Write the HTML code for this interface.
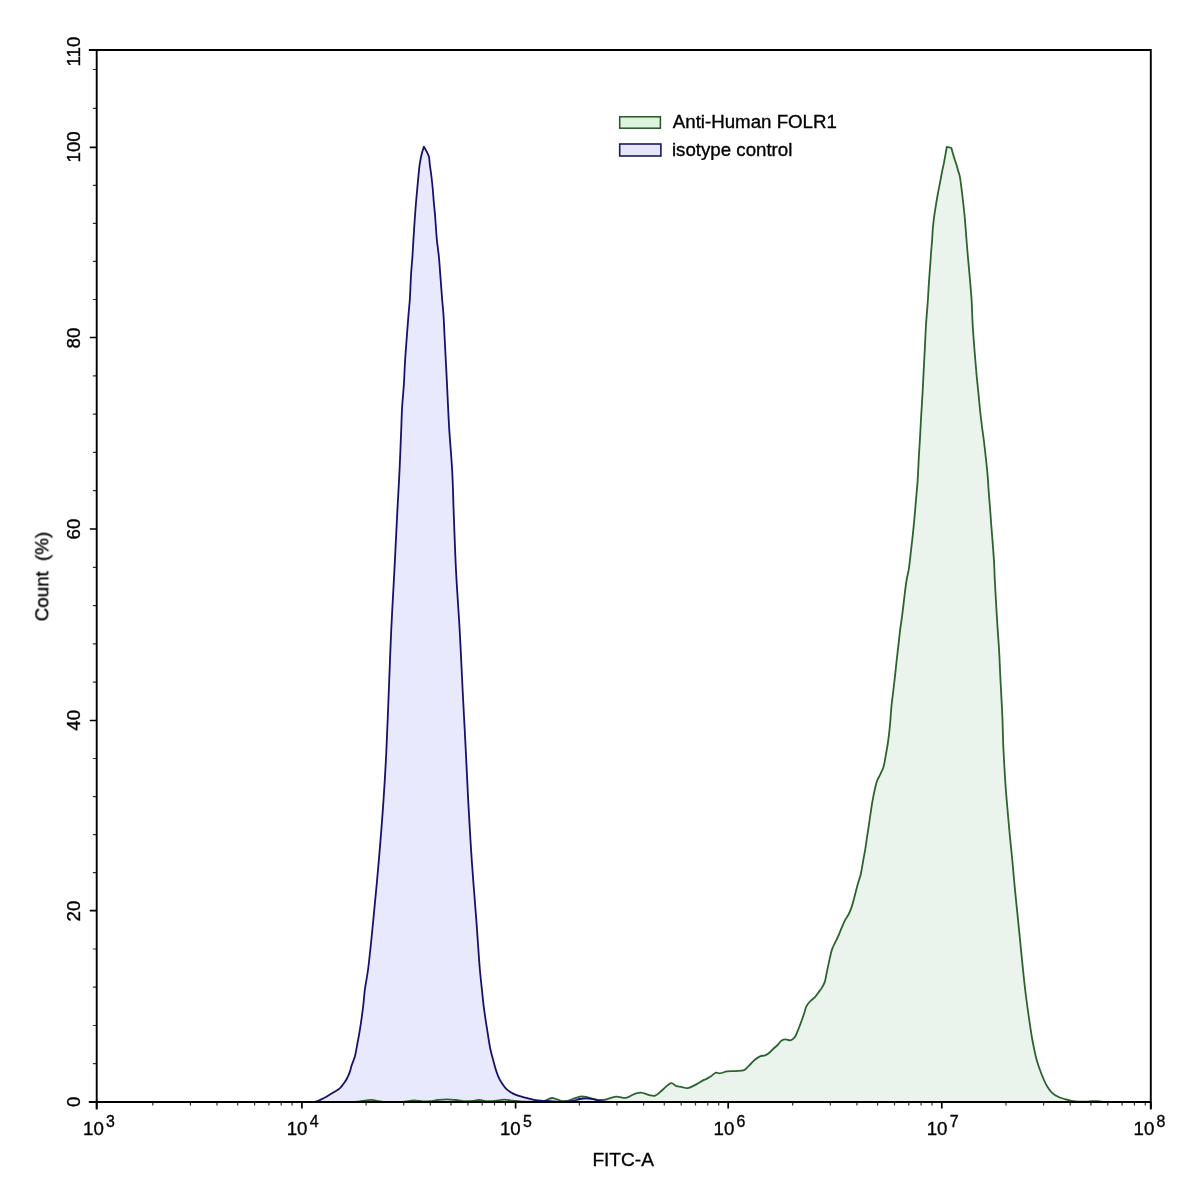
<!DOCTYPE html>
<html><head><meta charset="utf-8"><title>FITC-A histogram</title>
<style>html,body{margin:0;padding:0;background:#fff;width:1197px;height:1193px;overflow:hidden}svg{display:block}</style>
</head><body>
<svg width="1197" height="1193" viewBox="0 0 1197 1193" font-family="'Liberation Sans', Arial, sans-serif" fill="#000">
<defs><clipPath id="pc"><rect x="96" y="40" width="1056" height="1061.2"/></clipPath></defs><g clip-path="url(#pc)">
<path d="M97.00,1102.00 C97.00,1102.00 330.69,1103.73 355.00,1102.00 C359.02,1101.71 359.52,1101.34 362.00,1101.00 C364.81,1100.61 368.09,1099.74 371.00,1099.80 C373.75,1099.86 376.42,1100.83 379.00,1101.20 C381.41,1101.55 383.09,1101.86 386.00,1102.00 C390.78,1102.22 399.85,1102.02 405.00,1101.60 C408.56,1101.31 411.00,1100.33 414.00,1100.30 C417.00,1100.27 420.18,1101.27 423.00,1101.40 C425.48,1101.52 427.60,1101.41 430.00,1101.20 C432.58,1100.97 435.25,1100.31 438.00,1100.00 C440.91,1099.67 444.00,1099.30 447.00,1099.30 C450.00,1099.30 452.92,1099.70 456.00,1100.00 C459.25,1100.32 463.09,1101.07 466.00,1101.20 C468.25,1101.30 469.93,1101.18 472.00,1101.00 C474.25,1100.80 476.59,1099.99 479.00,1100.00 C481.58,1100.01 484.33,1101.05 487.00,1101.20 C489.66,1101.35 492.26,1101.13 495.00,1100.90 C497.92,1100.65 501.00,1099.73 504.00,1099.70 C507.00,1099.67 510.19,1100.38 513.00,1100.70 C515.48,1100.98 517.22,1101.33 520.00,1101.50 C524.05,1101.74 530.64,1101.73 535.00,1101.60 C538.38,1101.50 541.13,1101.62 544.00,1101.00 C546.79,1100.40 549.24,1098.08 552.00,1098.00 C554.90,1097.92 558.41,1100.35 561.00,1100.80 C562.89,1101.13 564.43,1101.14 566.00,1101.00 C567.42,1100.87 568.38,1100.56 570.00,1100.10 C572.60,1099.36 577.05,1097.03 580.00,1096.60 C582.22,1096.28 583.76,1096.55 586.00,1096.90 C588.95,1097.36 592.80,1099.17 596.10,1099.60 C599.16,1100.00 601.98,1100.02 605.10,1099.60 C608.61,1099.13 612.50,1096.85 616.10,1096.60 C619.49,1096.37 623.01,1098.38 626.10,1097.90 C629.01,1097.45 631.55,1094.99 634.20,1094.10 C636.57,1093.30 638.80,1092.49 641.20,1092.60 C643.79,1092.72 646.70,1094.61 649.20,1095.10 C651.32,1095.51 653.19,1096.20 655.20,1095.60 C657.78,1094.83 660.36,1091.55 663.00,1089.50 C665.72,1087.39 668.84,1083.24 671.30,1083.10 C673.14,1082.99 674.57,1085.47 676.30,1086.10 C677.91,1086.69 679.55,1086.58 681.30,1086.90 C683.26,1087.26 685.27,1088.44 687.50,1088.20 C690.31,1087.90 693.91,1085.55 696.70,1084.10 C699.15,1082.83 701.63,1080.95 703.40,1080.10 C704.47,1079.59 705.10,1079.57 706.10,1079.10 C707.46,1078.46 709.12,1077.40 710.70,1076.40 C712.45,1075.29 714.46,1073.03 716.10,1072.70 C717.28,1072.47 718.25,1073.42 719.40,1073.40 C720.67,1073.38 722.12,1072.75 723.40,1072.40 C724.58,1072.08 725.37,1071.63 726.80,1071.40 C729.12,1071.03 733.12,1071.33 736.10,1071.10 C738.87,1070.88 742.16,1070.94 744.10,1070.10 C745.45,1069.51 746.05,1068.57 747.10,1067.60 C748.37,1066.43 749.76,1064.85 751.10,1063.50 C752.43,1062.15 753.62,1060.69 755.10,1059.50 C756.61,1058.28 758.37,1057.00 760.10,1056.30 C761.71,1055.65 763.57,1055.88 765.10,1055.30 C766.56,1054.75 767.83,1053.97 769.10,1053.00 C770.51,1051.92 771.71,1050.31 773.10,1049.00 C774.54,1047.65 776.17,1046.42 777.60,1045.00 C779.04,1043.56 780.19,1041.31 781.70,1040.40 C782.94,1039.65 784.31,1039.42 785.70,1039.40 C787.20,1039.37 788.95,1040.68 790.40,1040.40 C791.85,1040.12 793.32,1038.93 794.40,1037.70 C795.61,1036.32 796.24,1034.22 797.10,1032.30 C798.04,1030.20 798.92,1027.89 799.80,1025.60 C800.72,1023.23 801.69,1020.63 802.50,1018.30 C803.24,1016.18 803.83,1014.22 804.50,1012.20 C805.16,1010.19 805.57,1008.01 806.50,1006.20 C807.39,1004.46 808.55,1003.00 809.90,1001.50 C811.40,999.85 813.63,998.51 815.20,996.80 C816.72,995.14 818.01,993.01 819.20,991.40 C820.16,990.11 820.97,989.26 821.80,987.90 C822.82,986.25 823.94,984.26 824.70,982.10 C825.57,979.63 825.91,976.56 826.50,973.80 C827.08,971.06 827.62,968.33 828.20,965.60 C828.78,962.86 829.39,960.02 830.00,957.40 C830.56,954.97 830.99,952.61 831.70,950.40 C832.37,948.32 833.18,946.53 834.10,944.50 C835.12,942.25 836.47,939.95 837.60,937.50 C838.81,934.87 839.88,932.04 841.10,929.20 C842.40,926.18 843.78,922.61 845.20,919.90 C846.37,917.67 847.74,916.10 848.80,914.00 C849.92,911.78 850.85,909.38 851.70,906.90 C852.60,904.29 853.24,901.53 854.00,898.70 C854.81,895.68 855.59,892.32 856.40,889.30 C857.16,886.47 857.96,883.59 858.70,881.10 C859.32,879.00 860.00,877.25 860.50,875.30 C861.00,873.35 861.29,871.60 861.70,869.40 C862.22,866.63 862.73,863.25 863.30,860.00 C863.92,856.50 864.69,852.80 865.30,849.10 C865.93,845.27 866.42,841.31 867.00,837.40 C867.58,833.47 868.22,829.53 868.80,825.60 C869.38,821.69 869.92,817.80 870.50,813.90 C871.08,810.00 871.62,806.10 872.30,802.20 C872.99,798.27 873.77,794.10 874.60,790.40 C875.35,787.08 875.99,783.71 877.00,781.00 C877.83,778.78 878.91,777.32 879.90,775.20 C881.07,772.69 882.55,769.96 883.50,766.90 C884.59,763.39 885.08,759.10 885.80,755.20 C886.52,751.30 887.22,747.41 887.80,743.50 C888.38,739.58 888.87,735.63 889.30,731.70 C889.73,727.80 890.06,724.02 890.40,720.00 C890.76,715.73 890.96,711.36 891.40,706.80 C891.88,701.88 892.60,696.60 893.20,691.50 C893.80,686.40 894.43,681.39 895.00,676.20 C895.59,670.83 896.10,665.16 896.70,659.80 C897.27,654.63 897.92,649.68 898.50,644.60 C899.08,639.51 899.57,634.29 900.20,629.30 C900.81,624.50 901.55,620.16 902.20,615.20 C902.92,609.66 903.57,603.46 904.30,597.60 C905.03,591.73 905.74,585.15 906.60,580.00 C907.28,575.92 908.15,573.18 908.80,569.10 C909.63,563.95 910.22,557.37 910.90,551.50 C911.58,545.63 912.28,539.77 912.90,533.90 C913.52,528.04 914.07,522.17 914.60,516.30 C915.13,510.43 915.60,504.57 916.10,498.70 C916.60,492.83 917.17,487.39 917.60,481.10 C918.09,473.84 918.39,464.87 918.80,457.60 C919.16,451.31 919.54,446.23 919.90,440.00 C920.31,432.94 920.67,425.01 921.10,417.40 C921.54,409.64 922.07,401.73 922.50,393.90 C922.93,386.07 923.30,378.23 923.70,370.40 C924.10,362.57 924.50,354.72 924.90,346.90 C925.30,339.09 925.60,331.31 926.10,323.50 C926.60,315.67 927.46,306.62 927.90,300.00 C928.22,295.15 928.35,291.53 928.60,287.40 C928.85,283.40 929.12,279.52 929.40,275.60 C929.68,271.69 930.02,267.80 930.30,263.90 C930.58,260.00 930.80,256.11 931.10,252.20 C931.40,248.27 931.82,244.33 932.10,240.40 C932.38,236.49 932.47,232.60 932.80,228.70 C933.13,224.77 933.58,220.82 934.10,216.90 C934.62,212.99 935.27,209.10 935.90,205.20 C936.53,201.30 937.19,197.40 937.90,193.50 C938.62,189.57 939.45,185.63 940.20,181.70 C940.95,177.79 941.70,173.45 942.40,170.00 C942.96,167.25 943.47,165.26 944.00,162.60 C944.61,159.52 945.29,155.48 945.80,152.60 C946.19,150.41 946.80,146.80 946.80,146.80 C946.80,146.80 951.30,147.80 951.30,147.80 C951.30,147.80 953.16,154.56 954.10,157.60 C954.93,160.28 955.93,162.86 956.60,165.10 C957.14,166.90 957.41,168.30 957.90,170.00 C958.44,171.88 959.18,173.58 959.70,175.90 C960.42,179.12 960.85,183.43 961.40,187.60 C962.02,192.35 962.64,197.91 963.20,202.90 C963.74,207.67 964.24,211.96 964.70,216.90 C965.22,222.45 965.63,228.71 966.10,234.60 C966.57,240.48 967.00,246.33 967.50,252.20 C968.00,258.07 968.58,263.93 969.10,269.80 C969.62,275.67 970.16,282.02 970.60,287.40 C970.97,291.95 971.30,295.15 971.60,300.00 C972.00,306.62 972.20,316.23 972.60,323.50 C972.95,329.79 973.37,335.23 973.80,341.10 C974.23,346.97 974.72,352.83 975.20,358.70 C975.68,364.57 976.15,370.44 976.70,376.30 C977.25,382.17 977.92,388.03 978.50,393.90 C979.08,399.77 979.59,405.84 980.20,411.50 C980.77,416.78 981.38,421.89 982.00,426.80 C982.58,431.37 983.21,435.28 983.80,440.00 C984.48,445.44 985.17,451.73 985.80,457.60 C986.43,463.46 987.10,469.33 987.60,475.20 C988.10,481.06 988.37,486.93 988.80,492.80 C989.23,498.67 989.75,504.53 990.20,510.40 C990.65,516.27 991.05,522.13 991.50,528.00 C991.95,533.87 992.47,539.73 992.90,545.60 C993.33,551.47 993.78,557.40 994.10,563.20 C994.41,568.86 994.51,573.93 994.80,580.00 C995.15,587.18 995.65,595.68 996.10,603.50 C996.55,611.31 997.00,619.09 997.50,626.90 C998.00,634.73 998.65,642.56 999.10,650.40 C999.55,658.23 999.82,666.07 1000.20,673.90 C1000.58,681.73 1001.01,689.64 1001.40,697.40 C1001.78,705.01 1002.20,712.39 1002.50,720.00 C1002.80,727.76 1002.88,735.68 1003.20,743.50 C1003.52,751.31 1003.95,759.09 1004.40,766.90 C1004.85,774.73 1005.32,782.57 1005.90,790.40 C1006.48,798.24 1007.22,806.07 1007.90,813.90 C1008.58,821.73 1009.26,829.65 1010.00,837.40 C1010.73,845.01 1011.57,852.39 1012.30,860.00 C1013.04,867.75 1013.67,875.68 1014.40,883.50 C1015.13,891.31 1015.92,899.09 1016.70,906.90 C1017.48,914.73 1018.32,922.57 1019.10,930.40 C1019.88,938.23 1020.62,946.07 1021.40,953.90 C1022.18,961.73 1022.97,969.83 1023.80,977.40 C1024.58,984.50 1025.32,991.12 1026.20,998.00 C1027.09,1004.92 1028.08,1011.88 1029.10,1018.80 C1030.12,1025.71 1031.03,1032.64 1032.30,1039.50 C1033.57,1046.37 1035.18,1054.41 1036.70,1060.00 C1037.77,1063.96 1038.85,1066.80 1040.00,1070.00 C1041.09,1073.02 1042.15,1075.88 1043.40,1078.70 C1044.62,1081.48 1045.87,1084.37 1047.40,1086.80 C1048.80,1089.03 1050.29,1091.12 1052.10,1092.80 C1053.87,1094.44 1055.97,1095.75 1058.10,1096.80 C1060.21,1097.84 1062.56,1098.43 1064.80,1099.10 C1067.00,1099.76 1068.78,1100.38 1071.40,1100.80 C1075.10,1101.39 1081.21,1101.74 1085.00,1101.70 C1087.72,1101.67 1089.86,1101.19 1092.00,1101.10 C1093.80,1101.02 1095.26,1100.98 1097.00,1101.10 C1098.91,1101.23 1100.04,1101.70 1103.00,1101.90 C1111.24,1102.46 1150.00,1102.00 1150.00,1102.00 L1150,1102 L97,1102 Z" fill="#eaf4ec" stroke="none"/>
<path d="M97.00,1102.00 C97.00,1102.00 273.53,1102.00 300.00,1102.00 C306.44,1102.00 309.64,1102.06 312.00,1102.00 C312.99,1101.98 313.33,1102.01 314.10,1101.90 C315.08,1101.76 316.28,1101.48 317.40,1101.10 C318.64,1100.68 319.91,1100.01 321.20,1099.40 C322.57,1098.75 324.02,1098.06 325.40,1097.30 C326.79,1096.53 328.12,1095.63 329.50,1094.80 C330.89,1093.96 332.30,1093.13 333.70,1092.30 C335.10,1091.47 336.62,1090.73 337.90,1089.80 C339.11,1088.92 340.23,1087.96 341.20,1086.90 C342.15,1085.86 342.86,1084.66 343.70,1083.50 C344.56,1082.30 345.54,1081.11 346.30,1079.80 C347.07,1078.48 347.68,1077.01 348.30,1075.60 C348.91,1074.21 349.48,1072.94 350.00,1071.40 C350.60,1069.62 350.92,1067.62 351.60,1065.50 C352.42,1062.93 353.80,1060.26 354.70,1057.10 C355.81,1053.19 356.55,1048.17 357.40,1043.70 C358.25,1039.24 359.07,1034.78 359.80,1030.30 C360.53,1025.81 361.18,1021.29 361.80,1016.80 C362.41,1012.33 363.00,1007.87 363.50,1003.40 C364.00,998.94 364.17,994.90 364.80,990.00 C365.57,983.99 366.92,978.15 368.00,970.00 C369.69,957.30 371.49,938.26 373.20,921.10 C375.10,902.06 377.08,880.91 378.80,860.80 C380.52,840.68 382.20,819.61 383.50,800.40 C384.69,782.90 385.54,767.61 386.40,750.20 C387.33,731.33 388.00,710.98 388.80,691.20 C389.60,671.18 390.27,650.93 391.20,630.80 C392.13,610.66 393.37,590.53 394.40,570.40 C395.43,550.27 396.47,527.94 397.40,510.00 C398.15,495.58 398.87,484.16 399.50,471.00 C400.14,457.53 400.73,441.73 401.20,430.10 C401.55,421.46 401.66,415.10 402.10,407.50 C402.55,399.74 403.40,391.84 403.90,384.00 C404.40,376.17 404.62,368.33 405.10,360.50 C405.58,352.66 406.22,344.83 406.80,337.00 C407.38,329.17 408.04,320.25 408.60,313.50 C409.02,308.38 409.44,305.25 409.80,300.00 C410.31,292.67 410.60,281.39 411.10,273.60 C411.49,267.40 412.02,262.48 412.40,256.90 C412.78,251.31 413.04,245.95 413.40,240.10 C413.80,233.70 414.26,226.34 414.70,220.00 C415.09,214.31 415.47,209.03 415.90,203.80 C416.31,198.88 416.77,194.26 417.20,189.50 C417.63,184.76 418.05,179.72 418.50,175.30 C418.89,171.42 419.15,168.02 419.70,164.40 C420.25,160.76 421.00,156.69 421.80,153.50 C422.44,150.95 423.90,146.70 423.90,146.70 C423.90,146.70 425.95,150.08 426.80,151.80 C427.61,153.45 428.40,154.92 428.90,156.80 C429.49,159.03 429.44,161.55 429.80,164.40 C430.27,168.07 431.00,172.80 431.50,177.00 C432.00,181.17 432.42,185.32 432.80,189.50 C433.18,193.69 433.43,197.90 433.80,202.10 C434.17,206.30 434.58,209.77 435.00,214.70 C435.59,221.70 436.16,232.51 436.90,240.10 C437.50,246.28 438.35,251.30 438.90,256.90 C439.45,262.47 439.72,267.40 440.20,273.60 C440.80,281.40 441.60,292.66 442.20,300.00 C442.63,305.25 443.04,308.38 443.40,313.50 C443.87,320.25 444.20,329.17 444.60,337.00 C445.00,344.83 445.40,352.67 445.80,360.50 C446.20,368.33 446.62,376.17 447.00,384.00 C447.38,391.83 447.71,399.74 448.10,407.50 C448.48,415.11 448.76,421.46 449.30,430.10 C450.02,441.73 451.46,457.11 452.20,471.00 C452.97,485.39 453.21,499.49 453.80,515.00 C454.46,532.40 455.05,551.54 456.00,570.40 C456.99,590.10 458.58,610.66 459.70,630.80 C460.82,650.93 461.71,671.65 462.70,691.20 C463.64,709.65 464.59,726.93 465.50,745.00 C466.42,763.33 467.18,781.54 468.20,800.40 C469.27,820.10 470.43,840.68 471.80,860.80 C473.17,880.91 474.99,902.05 476.40,921.10 C477.67,938.25 478.84,957.78 479.90,970.00 C480.54,977.34 481.05,981.47 481.70,987.60 C482.41,994.32 483.10,1001.77 484.00,1008.70 C484.88,1015.46 485.93,1021.95 487.00,1028.70 C488.10,1035.64 489.38,1044.52 490.50,1049.80 C491.18,1053.02 491.83,1054.95 492.50,1057.50 C493.16,1060.02 493.79,1062.50 494.50,1065.00 C495.22,1067.53 495.94,1070.19 496.80,1072.60 C497.61,1074.87 498.50,1077.11 499.50,1079.10 C500.41,1080.91 501.46,1082.55 502.50,1084.10 C503.46,1085.53 504.34,1086.87 505.50,1088.10 C506.70,1089.38 508.24,1090.65 509.60,1091.60 C510.77,1092.43 511.81,1092.98 513.10,1093.60 C514.60,1094.32 516.42,1095.01 518.10,1095.60 C519.75,1096.18 521.43,1096.63 523.10,1097.10 C524.76,1097.57 526.43,1097.98 528.10,1098.40 C529.76,1098.82 531.43,1099.27 533.10,1099.60 C534.76,1099.93 536.40,1100.19 538.10,1100.40 C539.86,1100.62 541.21,1100.73 543.50,1100.90 C547.50,1101.19 554.94,1101.79 560.00,1101.80 C564.32,1101.81 568.43,1101.77 572.00,1101.20 C574.96,1100.72 577.51,1099.46 580.00,1099.00 C582.13,1098.60 583.92,1098.39 586.00,1098.40 C588.24,1098.42 590.60,1098.77 593.00,1099.20 C595.59,1099.67 598.10,1100.74 601.00,1101.20 C604.35,1101.74 605.58,1101.77 612.00,1102.00 C656.86,1103.63 1150.00,1102.00 1150.00,1102.00 L1150,1102 L97,1102 Z" fill="#e9e9fe" stroke="none"/>
<path d="M97.00,1102.00 C97.00,1102.00 330.69,1103.73 355.00,1102.00 C359.02,1101.71 359.52,1101.34 362.00,1101.00 C364.81,1100.61 368.09,1099.74 371.00,1099.80 C373.75,1099.86 376.42,1100.83 379.00,1101.20 C381.41,1101.55 383.09,1101.86 386.00,1102.00 C390.78,1102.22 399.85,1102.02 405.00,1101.60 C408.56,1101.31 411.00,1100.33 414.00,1100.30 C417.00,1100.27 420.18,1101.27 423.00,1101.40 C425.48,1101.52 427.60,1101.41 430.00,1101.20 C432.58,1100.97 435.25,1100.31 438.00,1100.00 C440.91,1099.67 444.00,1099.30 447.00,1099.30 C450.00,1099.30 452.92,1099.70 456.00,1100.00 C459.25,1100.32 463.09,1101.07 466.00,1101.20 C468.25,1101.30 469.93,1101.18 472.00,1101.00 C474.25,1100.80 476.59,1099.99 479.00,1100.00 C481.58,1100.01 484.33,1101.05 487.00,1101.20 C489.66,1101.35 492.26,1101.13 495.00,1100.90 C497.92,1100.65 501.00,1099.73 504.00,1099.70 C507.00,1099.67 510.19,1100.38 513.00,1100.70 C515.48,1100.98 517.22,1101.33 520.00,1101.50 C524.05,1101.74 530.64,1101.73 535.00,1101.60 C538.38,1101.50 541.13,1101.62 544.00,1101.00 C546.79,1100.40 549.24,1098.08 552.00,1098.00 C554.90,1097.92 558.41,1100.35 561.00,1100.80 C562.89,1101.13 564.43,1101.14 566.00,1101.00 C567.42,1100.87 568.38,1100.56 570.00,1100.10 C572.60,1099.36 577.05,1097.03 580.00,1096.60 C582.22,1096.28 583.76,1096.55 586.00,1096.90 C588.95,1097.36 592.80,1099.17 596.10,1099.60 C599.16,1100.00 601.98,1100.02 605.10,1099.60 C608.61,1099.13 612.50,1096.85 616.10,1096.60 C619.49,1096.37 623.01,1098.38 626.10,1097.90 C629.01,1097.45 631.55,1094.99 634.20,1094.10 C636.57,1093.30 638.80,1092.49 641.20,1092.60 C643.79,1092.72 646.70,1094.61 649.20,1095.10 C651.32,1095.51 653.19,1096.20 655.20,1095.60 C657.78,1094.83 660.36,1091.55 663.00,1089.50 C665.72,1087.39 668.84,1083.24 671.30,1083.10 C673.14,1082.99 674.57,1085.47 676.30,1086.10 C677.91,1086.69 679.55,1086.58 681.30,1086.90 C683.26,1087.26 685.27,1088.44 687.50,1088.20 C690.31,1087.90 693.91,1085.55 696.70,1084.10 C699.15,1082.83 701.63,1080.95 703.40,1080.10 C704.47,1079.59 705.10,1079.57 706.10,1079.10 C707.46,1078.46 709.12,1077.40 710.70,1076.40 C712.45,1075.29 714.46,1073.03 716.10,1072.70 C717.28,1072.47 718.25,1073.42 719.40,1073.40 C720.67,1073.38 722.12,1072.75 723.40,1072.40 C724.58,1072.08 725.37,1071.63 726.80,1071.40 C729.12,1071.03 733.12,1071.33 736.10,1071.10 C738.87,1070.88 742.16,1070.94 744.10,1070.10 C745.45,1069.51 746.05,1068.57 747.10,1067.60 C748.37,1066.43 749.76,1064.85 751.10,1063.50 C752.43,1062.15 753.62,1060.69 755.10,1059.50 C756.61,1058.28 758.37,1057.00 760.10,1056.30 C761.71,1055.65 763.57,1055.88 765.10,1055.30 C766.56,1054.75 767.83,1053.97 769.10,1053.00 C770.51,1051.92 771.71,1050.31 773.10,1049.00 C774.54,1047.65 776.17,1046.42 777.60,1045.00 C779.04,1043.56 780.19,1041.31 781.70,1040.40 C782.94,1039.65 784.31,1039.42 785.70,1039.40 C787.20,1039.37 788.95,1040.68 790.40,1040.40 C791.85,1040.12 793.32,1038.93 794.40,1037.70 C795.61,1036.32 796.24,1034.22 797.10,1032.30 C798.04,1030.20 798.92,1027.89 799.80,1025.60 C800.72,1023.23 801.69,1020.63 802.50,1018.30 C803.24,1016.18 803.83,1014.22 804.50,1012.20 C805.16,1010.19 805.57,1008.01 806.50,1006.20 C807.39,1004.46 808.55,1003.00 809.90,1001.50 C811.40,999.85 813.63,998.51 815.20,996.80 C816.72,995.14 818.01,993.01 819.20,991.40 C820.16,990.11 820.97,989.26 821.80,987.90 C822.82,986.25 823.94,984.26 824.70,982.10 C825.57,979.63 825.91,976.56 826.50,973.80 C827.08,971.06 827.62,968.33 828.20,965.60 C828.78,962.86 829.39,960.02 830.00,957.40 C830.56,954.97 830.99,952.61 831.70,950.40 C832.37,948.32 833.18,946.53 834.10,944.50 C835.12,942.25 836.47,939.95 837.60,937.50 C838.81,934.87 839.88,932.04 841.10,929.20 C842.40,926.18 843.78,922.61 845.20,919.90 C846.37,917.67 847.74,916.10 848.80,914.00 C849.92,911.78 850.85,909.38 851.70,906.90 C852.60,904.29 853.24,901.53 854.00,898.70 C854.81,895.68 855.59,892.32 856.40,889.30 C857.16,886.47 857.96,883.59 858.70,881.10 C859.32,879.00 860.00,877.25 860.50,875.30 C861.00,873.35 861.29,871.60 861.70,869.40 C862.22,866.63 862.73,863.25 863.30,860.00 C863.92,856.50 864.69,852.80 865.30,849.10 C865.93,845.27 866.42,841.31 867.00,837.40 C867.58,833.47 868.22,829.53 868.80,825.60 C869.38,821.69 869.92,817.80 870.50,813.90 C871.08,810.00 871.62,806.10 872.30,802.20 C872.99,798.27 873.77,794.10 874.60,790.40 C875.35,787.08 875.99,783.71 877.00,781.00 C877.83,778.78 878.91,777.32 879.90,775.20 C881.07,772.69 882.55,769.96 883.50,766.90 C884.59,763.39 885.08,759.10 885.80,755.20 C886.52,751.30 887.22,747.41 887.80,743.50 C888.38,739.58 888.87,735.63 889.30,731.70 C889.73,727.80 890.06,724.02 890.40,720.00 C890.76,715.73 890.96,711.36 891.40,706.80 C891.88,701.88 892.60,696.60 893.20,691.50 C893.80,686.40 894.43,681.39 895.00,676.20 C895.59,670.83 896.10,665.16 896.70,659.80 C897.27,654.63 897.92,649.68 898.50,644.60 C899.08,639.51 899.57,634.29 900.20,629.30 C900.81,624.50 901.55,620.16 902.20,615.20 C902.92,609.66 903.57,603.46 904.30,597.60 C905.03,591.73 905.74,585.15 906.60,580.00 C907.28,575.92 908.15,573.18 908.80,569.10 C909.63,563.95 910.22,557.37 910.90,551.50 C911.58,545.63 912.28,539.77 912.90,533.90 C913.52,528.04 914.07,522.17 914.60,516.30 C915.13,510.43 915.60,504.57 916.10,498.70 C916.60,492.83 917.17,487.39 917.60,481.10 C918.09,473.84 918.39,464.87 918.80,457.60 C919.16,451.31 919.54,446.23 919.90,440.00 C920.31,432.94 920.67,425.01 921.10,417.40 C921.54,409.64 922.07,401.73 922.50,393.90 C922.93,386.07 923.30,378.23 923.70,370.40 C924.10,362.57 924.50,354.72 924.90,346.90 C925.30,339.09 925.60,331.31 926.10,323.50 C926.60,315.67 927.46,306.62 927.90,300.00 C928.22,295.15 928.35,291.53 928.60,287.40 C928.85,283.40 929.12,279.52 929.40,275.60 C929.68,271.69 930.02,267.80 930.30,263.90 C930.58,260.00 930.80,256.11 931.10,252.20 C931.40,248.27 931.82,244.33 932.10,240.40 C932.38,236.49 932.47,232.60 932.80,228.70 C933.13,224.77 933.58,220.82 934.10,216.90 C934.62,212.99 935.27,209.10 935.90,205.20 C936.53,201.30 937.19,197.40 937.90,193.50 C938.62,189.57 939.45,185.63 940.20,181.70 C940.95,177.79 941.70,173.45 942.40,170.00 C942.96,167.25 943.47,165.26 944.00,162.60 C944.61,159.52 945.29,155.48 945.80,152.60 C946.19,150.41 946.80,146.80 946.80,146.80 C946.80,146.80 951.30,147.80 951.30,147.80 C951.30,147.80 953.16,154.56 954.10,157.60 C954.93,160.28 955.93,162.86 956.60,165.10 C957.14,166.90 957.41,168.30 957.90,170.00 C958.44,171.88 959.18,173.58 959.70,175.90 C960.42,179.12 960.85,183.43 961.40,187.60 C962.02,192.35 962.64,197.91 963.20,202.90 C963.74,207.67 964.24,211.96 964.70,216.90 C965.22,222.45 965.63,228.71 966.10,234.60 C966.57,240.48 967.00,246.33 967.50,252.20 C968.00,258.07 968.58,263.93 969.10,269.80 C969.62,275.67 970.16,282.02 970.60,287.40 C970.97,291.95 971.30,295.15 971.60,300.00 C972.00,306.62 972.20,316.23 972.60,323.50 C972.95,329.79 973.37,335.23 973.80,341.10 C974.23,346.97 974.72,352.83 975.20,358.70 C975.68,364.57 976.15,370.44 976.70,376.30 C977.25,382.17 977.92,388.03 978.50,393.90 C979.08,399.77 979.59,405.84 980.20,411.50 C980.77,416.78 981.38,421.89 982.00,426.80 C982.58,431.37 983.21,435.28 983.80,440.00 C984.48,445.44 985.17,451.73 985.80,457.60 C986.43,463.46 987.10,469.33 987.60,475.20 C988.10,481.06 988.37,486.93 988.80,492.80 C989.23,498.67 989.75,504.53 990.20,510.40 C990.65,516.27 991.05,522.13 991.50,528.00 C991.95,533.87 992.47,539.73 992.90,545.60 C993.33,551.47 993.78,557.40 994.10,563.20 C994.41,568.86 994.51,573.93 994.80,580.00 C995.15,587.18 995.65,595.68 996.10,603.50 C996.55,611.31 997.00,619.09 997.50,626.90 C998.00,634.73 998.65,642.56 999.10,650.40 C999.55,658.23 999.82,666.07 1000.20,673.90 C1000.58,681.73 1001.01,689.64 1001.40,697.40 C1001.78,705.01 1002.20,712.39 1002.50,720.00 C1002.80,727.76 1002.88,735.68 1003.20,743.50 C1003.52,751.31 1003.95,759.09 1004.40,766.90 C1004.85,774.73 1005.32,782.57 1005.90,790.40 C1006.48,798.24 1007.22,806.07 1007.90,813.90 C1008.58,821.73 1009.26,829.65 1010.00,837.40 C1010.73,845.01 1011.57,852.39 1012.30,860.00 C1013.04,867.75 1013.67,875.68 1014.40,883.50 C1015.13,891.31 1015.92,899.09 1016.70,906.90 C1017.48,914.73 1018.32,922.57 1019.10,930.40 C1019.88,938.23 1020.62,946.07 1021.40,953.90 C1022.18,961.73 1022.97,969.83 1023.80,977.40 C1024.58,984.50 1025.32,991.12 1026.20,998.00 C1027.09,1004.92 1028.08,1011.88 1029.10,1018.80 C1030.12,1025.71 1031.03,1032.64 1032.30,1039.50 C1033.57,1046.37 1035.18,1054.41 1036.70,1060.00 C1037.77,1063.96 1038.85,1066.80 1040.00,1070.00 C1041.09,1073.02 1042.15,1075.88 1043.40,1078.70 C1044.62,1081.48 1045.87,1084.37 1047.40,1086.80 C1048.80,1089.03 1050.29,1091.12 1052.10,1092.80 C1053.87,1094.44 1055.97,1095.75 1058.10,1096.80 C1060.21,1097.84 1062.56,1098.43 1064.80,1099.10 C1067.00,1099.76 1068.78,1100.38 1071.40,1100.80 C1075.10,1101.39 1081.21,1101.74 1085.00,1101.70 C1087.72,1101.67 1089.86,1101.19 1092.00,1101.10 C1093.80,1101.02 1095.26,1100.98 1097.00,1101.10 C1098.91,1101.23 1100.04,1101.70 1103.00,1101.90 C1111.24,1102.46 1150.00,1102.00 1150.00,1102.00" fill="none" stroke="#2c632e" stroke-width="1.8" stroke-linejoin="round"/>
<path d="M97.00,1102.00 C97.00,1102.00 273.53,1102.00 300.00,1102.00 C306.44,1102.00 309.64,1102.06 312.00,1102.00 C312.99,1101.98 313.33,1102.01 314.10,1101.90 C315.08,1101.76 316.28,1101.48 317.40,1101.10 C318.64,1100.68 319.91,1100.01 321.20,1099.40 C322.57,1098.75 324.02,1098.06 325.40,1097.30 C326.79,1096.53 328.12,1095.63 329.50,1094.80 C330.89,1093.96 332.30,1093.13 333.70,1092.30 C335.10,1091.47 336.62,1090.73 337.90,1089.80 C339.11,1088.92 340.23,1087.96 341.20,1086.90 C342.15,1085.86 342.86,1084.66 343.70,1083.50 C344.56,1082.30 345.54,1081.11 346.30,1079.80 C347.07,1078.48 347.68,1077.01 348.30,1075.60 C348.91,1074.21 349.48,1072.94 350.00,1071.40 C350.60,1069.62 350.92,1067.62 351.60,1065.50 C352.42,1062.93 353.80,1060.26 354.70,1057.10 C355.81,1053.19 356.55,1048.17 357.40,1043.70 C358.25,1039.24 359.07,1034.78 359.80,1030.30 C360.53,1025.81 361.18,1021.29 361.80,1016.80 C362.41,1012.33 363.00,1007.87 363.50,1003.40 C364.00,998.94 364.17,994.90 364.80,990.00 C365.57,983.99 366.92,978.15 368.00,970.00 C369.69,957.30 371.49,938.26 373.20,921.10 C375.10,902.06 377.08,880.91 378.80,860.80 C380.52,840.68 382.20,819.61 383.50,800.40 C384.69,782.90 385.54,767.61 386.40,750.20 C387.33,731.33 388.00,710.98 388.80,691.20 C389.60,671.18 390.27,650.93 391.20,630.80 C392.13,610.66 393.37,590.53 394.40,570.40 C395.43,550.27 396.47,527.94 397.40,510.00 C398.15,495.58 398.87,484.16 399.50,471.00 C400.14,457.53 400.73,441.73 401.20,430.10 C401.55,421.46 401.66,415.10 402.10,407.50 C402.55,399.74 403.40,391.84 403.90,384.00 C404.40,376.17 404.62,368.33 405.10,360.50 C405.58,352.66 406.22,344.83 406.80,337.00 C407.38,329.17 408.04,320.25 408.60,313.50 C409.02,308.38 409.44,305.25 409.80,300.00 C410.31,292.67 410.60,281.39 411.10,273.60 C411.49,267.40 412.02,262.48 412.40,256.90 C412.78,251.31 413.04,245.95 413.40,240.10 C413.80,233.70 414.26,226.34 414.70,220.00 C415.09,214.31 415.47,209.03 415.90,203.80 C416.31,198.88 416.77,194.26 417.20,189.50 C417.63,184.76 418.05,179.72 418.50,175.30 C418.89,171.42 419.15,168.02 419.70,164.40 C420.25,160.76 421.00,156.69 421.80,153.50 C422.44,150.95 423.90,146.70 423.90,146.70 C423.90,146.70 425.95,150.08 426.80,151.80 C427.61,153.45 428.40,154.92 428.90,156.80 C429.49,159.03 429.44,161.55 429.80,164.40 C430.27,168.07 431.00,172.80 431.50,177.00 C432.00,181.17 432.42,185.32 432.80,189.50 C433.18,193.69 433.43,197.90 433.80,202.10 C434.17,206.30 434.58,209.77 435.00,214.70 C435.59,221.70 436.16,232.51 436.90,240.10 C437.50,246.28 438.35,251.30 438.90,256.90 C439.45,262.47 439.72,267.40 440.20,273.60 C440.80,281.40 441.60,292.66 442.20,300.00 C442.63,305.25 443.04,308.38 443.40,313.50 C443.87,320.25 444.20,329.17 444.60,337.00 C445.00,344.83 445.40,352.67 445.80,360.50 C446.20,368.33 446.62,376.17 447.00,384.00 C447.38,391.83 447.71,399.74 448.10,407.50 C448.48,415.11 448.76,421.46 449.30,430.10 C450.02,441.73 451.46,457.11 452.20,471.00 C452.97,485.39 453.21,499.49 453.80,515.00 C454.46,532.40 455.05,551.54 456.00,570.40 C456.99,590.10 458.58,610.66 459.70,630.80 C460.82,650.93 461.71,671.65 462.70,691.20 C463.64,709.65 464.59,726.93 465.50,745.00 C466.42,763.33 467.18,781.54 468.20,800.40 C469.27,820.10 470.43,840.68 471.80,860.80 C473.17,880.91 474.99,902.05 476.40,921.10 C477.67,938.25 478.84,957.78 479.90,970.00 C480.54,977.34 481.05,981.47 481.70,987.60 C482.41,994.32 483.10,1001.77 484.00,1008.70 C484.88,1015.46 485.93,1021.95 487.00,1028.70 C488.10,1035.64 489.38,1044.52 490.50,1049.80 C491.18,1053.02 491.83,1054.95 492.50,1057.50 C493.16,1060.02 493.79,1062.50 494.50,1065.00 C495.22,1067.53 495.94,1070.19 496.80,1072.60 C497.61,1074.87 498.50,1077.11 499.50,1079.10 C500.41,1080.91 501.46,1082.55 502.50,1084.10 C503.46,1085.53 504.34,1086.87 505.50,1088.10 C506.70,1089.38 508.24,1090.65 509.60,1091.60 C510.77,1092.43 511.81,1092.98 513.10,1093.60 C514.60,1094.32 516.42,1095.01 518.10,1095.60 C519.75,1096.18 521.43,1096.63 523.10,1097.10 C524.76,1097.57 526.43,1097.98 528.10,1098.40 C529.76,1098.82 531.43,1099.27 533.10,1099.60 C534.76,1099.93 536.40,1100.19 538.10,1100.40 C539.86,1100.62 541.21,1100.73 543.50,1100.90 C547.50,1101.19 554.94,1101.79 560.00,1101.80 C564.32,1101.81 568.43,1101.77 572.00,1101.20 C574.96,1100.72 577.51,1099.46 580.00,1099.00 C582.13,1098.60 583.92,1098.39 586.00,1098.40 C588.24,1098.42 590.60,1098.77 593.00,1099.20 C595.59,1099.67 598.10,1100.74 601.00,1101.20 C604.35,1101.74 605.58,1101.77 612.00,1102.00 C656.86,1103.63 1150.00,1102.00 1150.00,1102.00" fill="none" stroke="#16126a" stroke-width="1.8" stroke-linejoin="round"/>
</g>
<path d="M89.8,1102.0H96.7 M89.8,910.7H96.7 M89.8,720.5H96.7 M89.8,529.0H96.7 M89.8,337.5H96.7 M89.8,147.3H96.7 M89.8,50.0H96.7 M96.7,1102.0V1108.5 M301.9,1102.0V1108.5 M515.6,1102.0V1108.5 M728.2,1102.0V1108.5 M941.8,1102.0V1108.5 M1150.8,1102.0V1108.5" stroke="#000" stroke-width="1.7" fill="none"/>
<path d="M92.9,1063.7H96.7 M92.9,1025.5H96.7 M92.9,987.2H96.7 M92.9,949.0H96.7 M92.9,872.7H96.7 M92.9,834.6H96.7 M92.9,796.6H96.7 M92.9,758.5H96.7 M92.9,682.2H96.7 M92.9,643.9H96.7 M92.9,605.6H96.7 M92.9,567.3H96.7 M92.9,490.7H96.7 M92.9,452.4H96.7 M92.9,414.1H96.7 M92.9,375.8H96.7 M92.9,299.5H96.7 M92.9,261.4H96.7 M92.9,223.4H96.7 M92.9,185.3H96.7 M92.9,108.4H96.7 M92.9,69.5H96.7 M152.8,1102.0V1105.4 M190.4,1102.0V1105.4 M217.0,1102.0V1105.4 M237.7,1102.0V1105.4 M254.6,1102.0V1105.4 M268.9,1102.0V1105.4 M281.2,1102.0V1105.4 M292.1,1102.0V1105.4 M366.1,1102.0V1105.4 M403.7,1102.0V1105.4 M430.3,1102.0V1105.4 M451.0,1102.0V1105.4 M467.9,1102.0V1105.4 M482.2,1102.0V1105.4 M494.5,1102.0V1105.4 M505.4,1102.0V1105.4 M579.4,1102.0V1105.4 M617.0,1102.0V1105.4 M643.6,1102.0V1105.4 M664.3,1102.0V1105.4 M681.2,1102.0V1105.4 M695.5,1102.0V1105.4 M707.8,1102.0V1105.4 M718.7,1102.0V1105.4 M792.7,1102.0V1105.4 M830.3,1102.0V1105.4 M856.9,1102.0V1105.4 M877.6,1102.0V1105.4 M894.5,1102.0V1105.4 M908.8,1102.0V1105.4 M921.1,1102.0V1105.4 M932.0,1102.0V1105.4 M1006.0,1102.0V1105.4 M1043.6,1102.0V1105.4 M1070.2,1102.0V1105.4 M1090.9,1102.0V1105.4 M1107.8,1102.0V1105.4 M1122.1,1102.0V1105.4 M1134.4,1102.0V1105.4 M1145.3,1102.0V1105.4" stroke="#333" stroke-width="1.2" fill="none"/>
<path d="M96.7,50.0V1108.5 M89.8,1102.0H1150.8 M89.8,50.0H1150.8 M1150.8,50.0V1108.5" stroke="#000" stroke-width="1.9" fill="none" stroke-linecap="square"/>
<rect x="619.7" y="116.8" width="40.7" height="11.4" fill="#dcf6dc" stroke="#29522b" stroke-width="1.5"/>
<rect x="619.7" y="144" width="41.2" height="12" fill="#e6e6fa" stroke="#1c1858" stroke-width="1.6"/>
<g style="will-change:transform" stroke="#000" stroke-width="0.35">
<text transform="translate(79.6,1101.9) rotate(-90)" text-anchor="middle" font-size="18.7">0</text>
<text transform="translate(79.6,911.1) rotate(-90)" text-anchor="middle" font-size="18.7">20</text>
<text transform="translate(79.6,720.3) rotate(-90)" text-anchor="middle" font-size="18.7">40</text>
<text transform="translate(79.6,529.0) rotate(-90)" text-anchor="middle" font-size="18.7">60</text>
<text transform="translate(79.6,338.0) rotate(-90)" text-anchor="middle" font-size="18.7">80</text>
<text transform="translate(79.6,146.85) rotate(-90)" text-anchor="middle" font-size="18.7">100</text>
<text transform="translate(79.6,51.6) rotate(-90)" text-anchor="middle" font-size="18.7">110</text>
<text x="83.0" y="1134.6" font-size="18.7">10</text>
<text x="106.0" y="1127" font-size="15.9">3</text>
<text x="286.7" y="1134.6" font-size="18.7">10</text>
<text x="309.7" y="1127" font-size="15.9">4</text>
<text x="499.9" y="1134.6" font-size="18.7">10</text>
<text x="522.9" y="1127" font-size="15.9">5</text>
<text x="713.5" y="1134.6" font-size="18.7">10</text>
<text x="736.5" y="1127" font-size="15.9">6</text>
<text x="926.7" y="1134.6" font-size="18.7">10</text>
<text x="949.7" y="1127" font-size="15.9">7</text>
<text x="1133.5" y="1134.6" font-size="18.7">10</text>
<text x="1156.5" y="1127" font-size="15.9">8</text>
<text x="592.4" y="1165.8" font-size="19.1">FITC-A</text>
<text transform="translate(48.3,576.5) rotate(-90)" text-anchor="middle" font-size="18.7" xml:space="preserve">Count  (%)</text>
<text x="672.8" y="128.2" font-size="18.7">Anti-Human FOLR1</text>
<text x="671.9" y="155.6" font-size="18.7">isotype control</text>
</g>
</svg>
</body></html>
